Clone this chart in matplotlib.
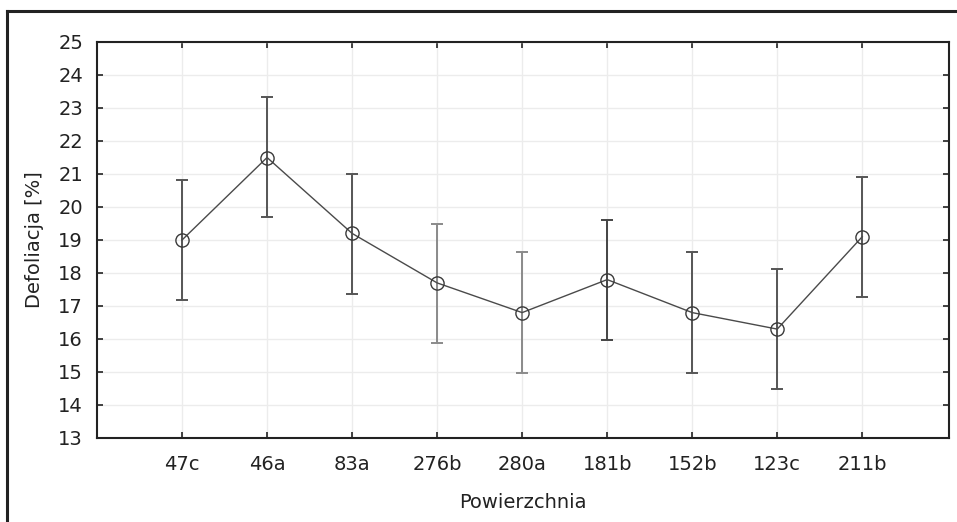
import numpy as np
import matplotlib.pyplot as plt
from matplotlib.lines import Line2D

plt.rcParams['font.family'] = ['DejaVu Sans']

# dane
powierzchnie = ['47c', '46a', '83a', '276b', '280a', '181b', '152b', '123c', '211b']
srednia = [19.0, 21.5, 19.2, 17.7, 16.8, 17.8, 16.8, 16.3, 19.1]
gorna = [20.82, 23.34, 21.01, 19.5, 18.63, 19.6, 18.63, 18.13, 20.92]
dolna = [17.18, 19.69, 17.36, 15.87, 14.98, 15.97, 14.98, 14.48, 17.27]
kolor_bledu = ['#555555', '#555555', '#555555', '#8a8a8a', '#8a8a8a',
               '#444444', '#555555', '#555555', '#555555']

fig = plt.figure(figsize=(9.57, 5.22), dpi=100)
ax = fig.add_axes([97 / 957, 1 - 438 / 522, (949 - 97) / 957, (438 - 42) / 522])

x = np.arange(len(powierzchnie))
sr = np.array(srednia)
for i in range(len(x)):
    ax.errorbar(x[i], sr[i], yerr=[[sr[i] - dolna[i]], [gorna[i] - sr[i]]],
                fmt='none', ecolor=kolor_bledu[i], elinewidth=1.4,
                capsize=4, capthick=1.4, zorder=2)
ax.plot(x, sr, color='#4a4a4a', lw=1.0, marker='o', ms=9.5,
        mfc='none', mec='#3a3a3a', mew=1.0, zorder=3)

ax.set_xlim(-1, 9.02)
ax.set_ylim(13, 25)
ax.set_yticks(np.arange(13, 26, 1))
ax.set_xticks(x)
ax.set_xticklabels(powierzchnie)
ax.grid(True, color='#ececec', lw=1.0)
ax.set_axisbelow(True)
ax.tick_params(direction='in', top=True, right=True, length=4, width=1.2,
               labelsize=14, colors='#222222')
ax.tick_params(axis='y', pad=10)
ax.tick_params(axis='x', pad=12)
for s in ax.spines.values():
    s.set_linewidth(1.5)
    s.set_color('#222222')

ax.set_xlabel('Powierzchnia', fontsize=14, labelpad=14, color='#222222')
ax.set_ylabel('Defoliacja [%]', fontsize=14, labelpad=10, color='#222222')

# ramka wokol rysunku
fig.add_artist(Line2D([7 / 957, 7 / 957], [0, 1 - 11 / 522], transform=fig.transFigure,
                      color='#222222', lw=2.2))
fig.add_artist(Line2D([7 / 957, 1], [1 - 11 / 522, 1 - 11 / 522], transform=fig.transFigure,
                      color='#222222', lw=2.2))

fig.savefig('out.png', dpi=100)
